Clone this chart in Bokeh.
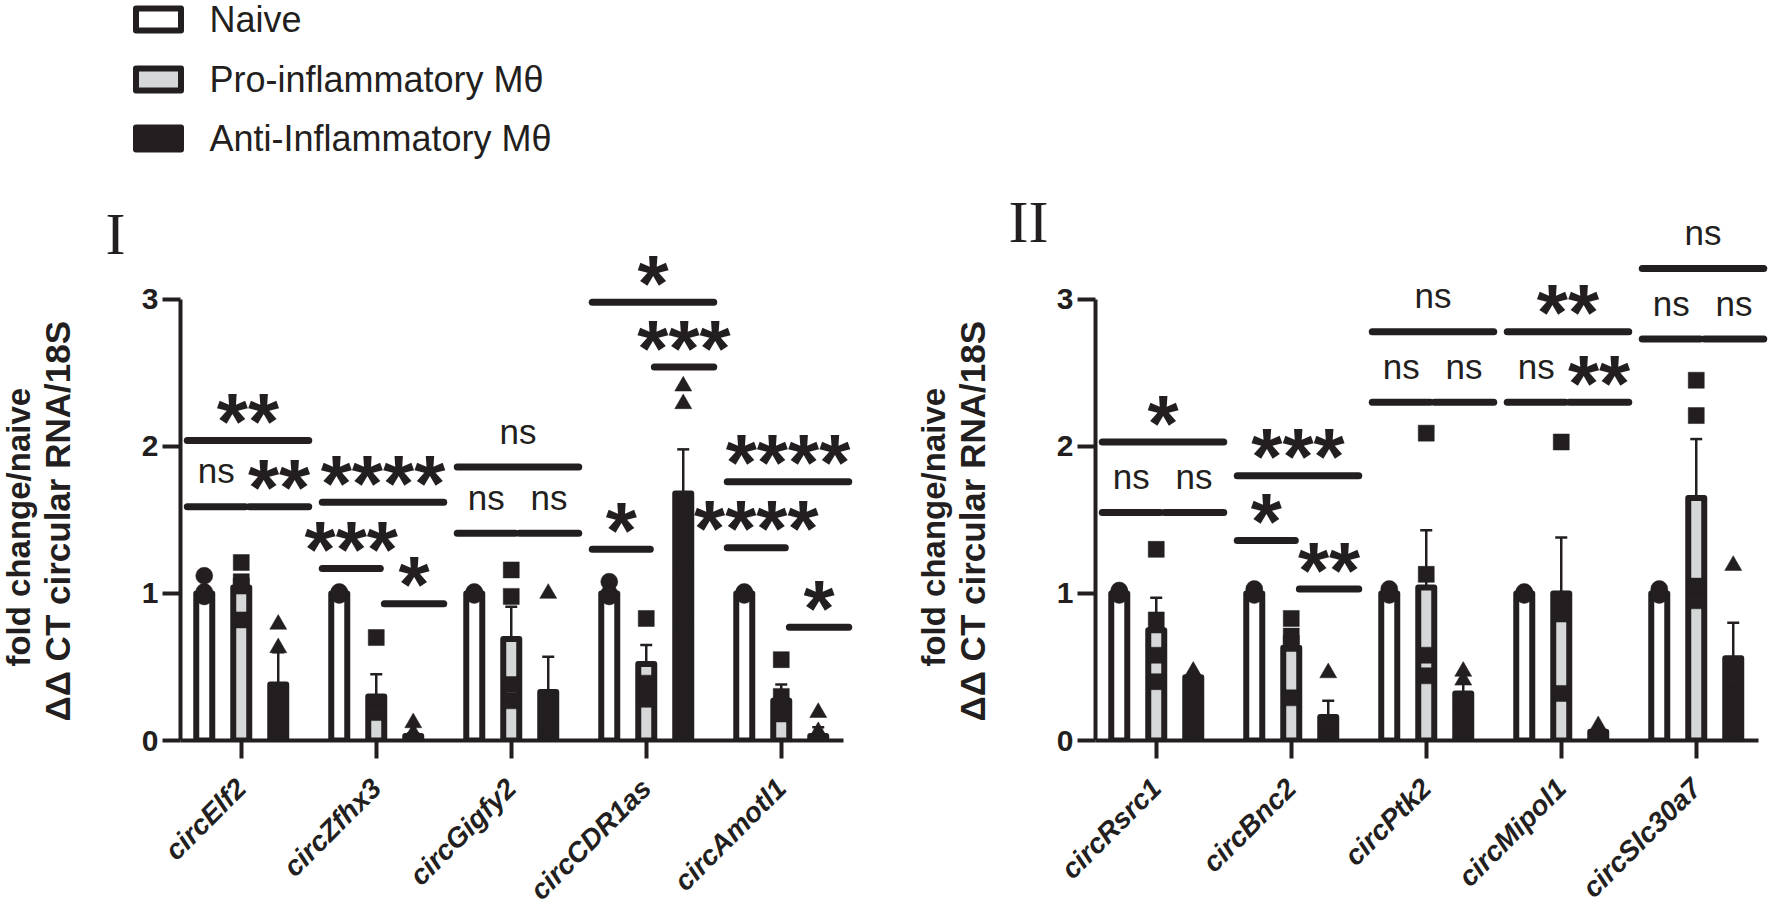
import math
from bokeh.plotting import figure
from bokeh.models import Range1d, FixedTicker
from bokeh.layouts import column, row
from bokeh.embed import file_html
from bokeh.resources import INLINE
from bokeh.core.properties import value

# ---------------- data ----------------
groups = ["Naive", "Pro-inflammatory Mθ", "Anti-Inflammatory Mθ"]

genes_I = ["circElf2", "circZfhx3", "circGigfy2", "circCDR1as", "circAmotl1"]
naive_mean_I = [1.0, 1.0, 1.0, 1.0, 1.0]
pro_mean_I = [1.04, 0.30, 0.69, 0.52, 0.27]
pro_err_I = [0.07, 0.15, 0.22, 0.13, 0.11]
anti_mean_I = [0.38, 0.03, 0.33, 1.68, 0.03]
anti_err_I = [0.22, 0.02, 0.24, 0.30, 0.06]
naive_pts_I = [[1.12, 1.01, 0.99, 0.98], [1.01, 1.0, 1.0, 0.99], [1.01, 1.0, 1.0, 0.99],
               [1.08, 1.0, 0.99, 0.98], [1.01, 1.0, 1.0, 0.99]]
pro_pts_I = [[1.21, 1.08, 1.05, 0.82], [0.70, 0.25, 0.19], [1.16, 0.98, 0.38, 0.27],
             [0.83, 0.39, 0.36, 0.28], [0.55, 0.30, 0.24, 0.18]]
anti_pts_I = [[0.79, 0.63, 0.08, 0.03], [0.12, 0.05, 0.02, 0.01], [1.00, 0.20, 0.08, 0.05],
              [2.41, 2.29, 1.20, 0.82], [0.19, 0.06, 0.03, 0.02]]
sig_np_I = [1.59, 1.17, 1.41, 1.30, 1.31]
sig_pa_I = [1.59, 0.93, 1.41, 2.54, 0.77]
sig_na_I = [2.04, 1.62, 1.86, 2.98, 1.76]
lab_np_I = ["ns", "***", "ns", "*", "****"]
lab_pa_I = ["**", "*", "ns", "***", "*"]
lab_na_I = ["**", "****", "ns", "*", "****"]

genes_II = ["circRsrc1", "circBnc2", "circPtk2", "circMipol1", "circSlc30a7"]
naive_mean_II = [1.0, 1.0, 1.0, 1.0, 1.0]
pro_mean_II = [0.75, 0.63, 1.04, 1.00, 1.65]
pro_err_II = [0.22, 0.10, 0.39, 0.38, 0.40]
anti_mean_II = [0.43, 0.16, 0.32, 0.06, 0.56]
anti_err_II = [0.02, 0.11, 0.07, 0.02, 0.24]
naive_pts_II = [[1.02, 1.01, 1.0, 0.99], [1.03, 1.0, 1.0, 0.99], [1.03, 1.0, 1.0, 0.99],
                [1.01, 1.0, 1.0, 0.99], [1.03, 1.0, 1.0, 0.99]]
pro_pts_II = [[1.30, 0.82, 0.58, 0.40], [0.83, 0.71, 0.66, 0.29], [2.09, 1.13, 0.58, 0.44],
              [2.03, 0.96, 0.86, 0.32], [2.45, 2.21, 1.05, 0.95]]
anti_pts_II = [[0.47, 0.46, 0.41, 0.38], [0.46, 0.10, 0.05, 0.01], [0.47, 0.41, 0.25, 0.15],
               [0.10, 0.08, 0.05, 0.02], [1.19, 0.45, 0.40, 0.20]]
sig_np_II = [1.55, 1.36, 2.30, 2.30, 2.73]
sig_pa_II = [1.55, 1.03, 2.30, 2.30, 2.73]
sig_na_II = [2.03, 1.80, 2.78, 2.78, 3.21]
lab_np_II = ["ns", "*", "ns", "ns", "ns"]
lab_pa_II = ["ns", "**", "ns", "**", "ns"]
lab_na_II = ["*", "***", "ns", "**", "ns"]

y_title = ["fold change/naive", "ΔΔ CT circular RNA/18S"]
panel_names = ["I", "II"]

# ---------------- style / layout ----------------
DARK = "#231f20"
GRAY = "#d6d7d9"
FONT = "Liberation Sans"
PX_Y = 147.3          # pixels per y unit
PX_X = 135.0          # pixels per category
X_START = -0.45
AXIS_END = 4.46
LEG_H = 160
ROW_H = 919 - LEG_H
TOP_PAD = 10
BOTTOM = 178
FRAME_H = ROW_H - TOP_PAD - BOTTOM
Y_END = FRAME_H / PX_Y
OFFS = [-0.274, 0.0, 0.274]
BAR_W = 16 / PX_X
CAP = 6 / PX_X
SPAN = {"NP": (-0.40, 0.03), "PA": (0.06, 0.50), "NA": (-0.40, 0.50)}
NS_BASE_PX = 36
STAR_BASE_PX = 19
AX_BORDER = 44
YTITLE_X = [-162, -123]
YTITLE_Y = [635, 627]
YTITLE_SIZE = ["33px", "35px"]


def make_panel(genes, naive_mean, pro_mean, pro_err, anti_mean, anti_err,
               naive_pts, pro_pts, anti_pts, sig, labs, width):
    frame_w = width - AX_BORDER
    p = figure(width=width, height=ROW_H, title=None,
               x_range=Range1d(X_START, X_START + frame_w / PX_X),
               y_range=Range1d(0, Y_END),
               toolbar_location=None, output_backend="svg",
               min_border_left=AX_BORDER, min_border_right=0,
               min_border_top=TOP_PAD, min_border_bottom=BOTTOM)
    p.grid.visible = False
    p.outline_line_color = None

    idx = list(range(len(genes)))
    fills = ["white", GRAY, DARK]
    means = [naive_mean, pro_mean, anti_mean]
    for g in range(3):
        xs = [i + OFFS[g] for i in idx]
        p.vbar(x=xs, top=means[g], width=BAR_W, bottom=0, fill_color=fills[g],
               line_color=DARK, line_width=6, line_join="round")
    for g, m, e in [(1, pro_mean, pro_err), (2, anti_mean, anti_err)]:
        xs = [i + OFFS[g] for i in idx]
        tops = [a + b for a, b in zip(m, e)]
        p.segment(x0=xs, y0=m, x1=xs, y1=tops, line_color=DARK, line_width=2.5)
        p.segment(x0=[x - CAP for x in xs], y0=tops, x1=[x + CAP for x in xs], y1=tops,
                  line_color=DARK, line_width=2.5)
    markers = ["circle", "square", "triangle"]
    sizes = [17, 16, 17]
    for g, pts in enumerate([naive_pts, pro_pts, anti_pts]):
        xs, ys = [], []
        for i, vals in enumerate(pts):
            for v in vals:
                xs.append(i + OFFS[g])
                ys.append(v)
        p.scatter(x=xs, y=ys, marker=markers[g], size=sizes[g], fill_color=DARK,
                  line_color=DARK, line_width=0.5)

    bx0, bx1, by = [], [], []
    ns_x, ns_y, ns_t, st_x, st_y, st_t = [], [], [], [], [], []
    for key in ["NP", "PA", "NA"]:
        lo, hi = SPAN[key]
        for i in idx:
            lev, lab = sig[key][i], labs[key][i]
            bx0.append(i + lo); bx1.append(i + hi); by.append(lev)
            cx = i + (lo + hi) / 2
            if lab == "ns":
                ns_x.append(cx); ns_y.append(lev + NS_BASE_PX / PX_Y); ns_t.append(lab)
            else:
                st_x.append(cx); st_y.append(lev + STAR_BASE_PX / PX_Y); st_t.append(lab)
    p.segment(x0=bx0, y0=by, x1=bx1, y1=by, line_color=DARK, line_width=7, line_cap="round")
    p.text(x=ns_x, y=ns_y, text=ns_t, text_font=value(FONT), text_font_size="35px",
           text_align="center", text_baseline="alphabetic", text_color=DARK)
    p.text(x=st_x, y=st_y, text=st_t, text_font=value(FONT), text_font_size="80px",
           text_font_style="bold", text_align="center", text_baseline="alphabetic",
           text_color=DARK)

    p.xaxis.ticker = FixedTicker(ticks=idx)
    p.xaxis.major_label_overrides = {i: g for i, g in enumerate(genes)}
    p.xaxis.major_label_orientation = math.pi / 4
    p.xaxis.bounds = (X_START, AXIS_END)
    p.yaxis.ticker = FixedTicker(ticks=[0, 1, 2, 3])
    p.yaxis.bounds = (0, 3)
    for ax in (p.xaxis, p.yaxis):
        ax.axis_line_width = 4
        ax.axis_line_color = DARK
        ax.major_tick_line_width = 4
        ax.major_tick_line_color = DARK
        ax.major_tick_out = 18
        ax.major_tick_in = 0
        ax.minor_tick_line_color = None
        ax.major_label_text_font = FONT
        ax.major_label_text_color = DARK
    p.yaxis.major_label_text_font_size = "30px"
    p.yaxis.major_label_text_font_style = "bold"
    p.yaxis.major_label_standoff = 4
    p.xaxis.major_label_text_font_size = "28px"
    p.xaxis.major_label_text_font_style = "bold italic"
    p.xaxis.major_label_standoff = 25
    return p


def make_side(x0, width, name, name_x, name_y, axis_x):
    f = figure(width=width, height=ROW_H, title=None,
               x_range=Range1d(x0, x0 + width), y_range=Range1d(LEG_H + ROW_H, LEG_H),
               x_axis_type=None, y_axis_type=None, toolbar_location=None,
               output_backend="svg", min_border=0)
    f.outline_line_color = None
    for k in range(2):
        f.text(x=[axis_x + YTITLE_X[k]], y=[YTITLE_Y[k]], text=[y_title[k]],
               angle=math.pi / 2, text_font=value(FONT), text_font_size=YTITLE_SIZE[k],
               text_font_style="bold", text_align="center", text_baseline="middle",
               text_color=DARK)
    f.text(x=[name_x], y=[name_y], text=[name], text_font=value("Liberation Serif"),
           text_font_size="60px", text_align="center", text_baseline="middle",
           text_color=DARK)
    return f


AXIS1, AXIS2, TOTAL_W = 180, 1095, 1772
W_T1 = AXIS1 - AX_BORDER
W_P1 = 866 - W_T1
W_T2 = AXIS2 - AX_BORDER - 866
W_P2 = TOTAL_W - (AXIS2 - AX_BORDER)

t1 = make_side(0, W_T1, panel_names[0], 115, 245, AXIS1)
p1 = make_panel(genes_I, naive_mean_I, pro_mean_I, pro_err_I, anti_mean_I, anti_err_I,
                naive_pts_I, pro_pts_I, anti_pts_I,
                {"NP": sig_np_I, "PA": sig_pa_I, "NA": sig_na_I},
                {"NP": lab_np_I, "PA": lab_pa_I, "NA": lab_na_I}, W_P1)
t2 = make_side(866, W_T2, panel_names[1], 1028, 229, AXIS2)
p2 = make_panel(genes_II, naive_mean_II, pro_mean_II, pro_err_II, anti_mean_II, anti_err_II,
                naive_pts_II, pro_pts_II, anti_pts_II,
                {"NP": sig_np_II, "PA": sig_pa_II, "NA": sig_na_II},
                {"NP": lab_np_II, "PA": lab_pa_II, "NA": lab_na_II}, W_P2)

leg = figure(width=TOTAL_W, height=LEG_H, title=None,
             x_range=Range1d(0, TOTAL_W), y_range=Range1d(LEG_H, 0),
             x_axis_type=None, y_axis_type=None, toolbar_location=None,
             output_backend="svg", min_border=0)
leg.outline_line_color = None
rows_y = [19, 79, 138]
leg.rect(x=[158] * 3, y=rows_y, width=45, height=22, fill_color=["white", GRAY, DARK],
         line_color=DARK, line_width=6, line_join="round")
leg.text(x=[209] * 3, y=rows_y, text=groups, text_font=value(FONT), text_font_size="36px",
         text_align="left", text_baseline="middle", text_color=DARK)

layout = column(leg, row(t1, p1, t2, p2))
open("out.html", "w").write(file_html(layout, INLINE))
